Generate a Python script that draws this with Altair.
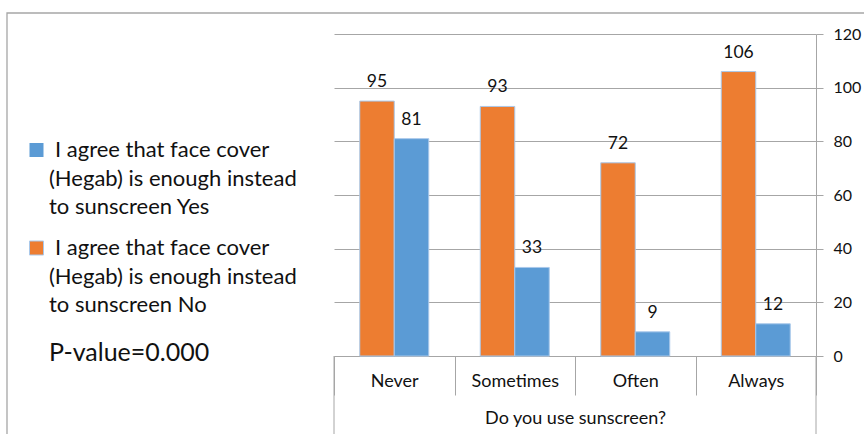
import altair as alt
import pandas as pd

# ---- data -------------------------------------------------------------
categories = ["Never", "Sometimes", "Often", "Always"]
series_keys = ["No", "Yes"]
no_values = [95, 93, 72, 106]
yes_values = [81, 33, 9, 12]
series_colors = ["#ED7D31", "#5B9BD5"]
legend_first = "I agree that face cover"
legend_yes_rest = ["(Hegab) is enough instead", "to sunscreen Yes"]
legend_no_rest = ["(Hegab) is enough instead", "to sunscreen No"]
x_title = "Do you use sunscreen?"
p_text = "P-value=0.000"
y_ticks = [0, 20, 40, 60, 80, 100, 120]

rows = []
for c, n, y in zip(categories, no_values, yes_values):
    rows.append({"category": c, "series": "No", "value": n})
    rows.append({"category": c, "series": "Yes", "value": y})
df = pd.DataFrame(rows)
one = pd.DataFrame({"k": [0]})

FONT = "Lato"
GRID = "#A6A6A6"
INK = "#111111"
W, H = 482, 322

x_enc = alt.X(
    "category:N",
    sort=categories,
    scale=alt.Scale(paddingInner=0, paddingOuter=0),
    axis=alt.Axis(
        title=x_title,
        titleFont=FONT,
        titleFontSize=18,
        titleFontWeight="normal",
        titleColor=INK,
        titleY=62,
        titleBaseline="middle",
        labelFont=FONT,
        labelFontSize=18,
        labelColor=INK,
        labelAngle=0,
        labelBaseline="middle",
        labelPadding=-14,
        tickBand="extent",
        tickSize=39,
        tickColor=GRID,
        domainColor=GRID,
        grid=False,
    ),
)
xo_enc = alt.XOffset("series:N", sort=series_keys,
                     scale=alt.Scale(paddingInner=0, paddingOuter=0.7464))
y_enc = alt.Y(
    "value:Q",
    scale=alt.Scale(domain=[0, 120], nice=False),
    axis=alt.Axis(
        orient="right",
        title=None,
        values=y_ticks,
        labelFont=FONT,
        labelFontSize=16,
        labelColor=INK,
        labelPadding=10,
        tickSize=7,
        tickColor=GRID,
        domainColor=GRID,
        grid=True,
        gridColor=GRID,
    ),
)

bars = alt.Chart(df).mark_bar(stroke="#A9C8EA", strokeWidth=1).encode(
    x=x_enc,
    xOffset=xo_enc,
    y=y_enc,
    color=alt.Color("series:N", scale=alt.Scale(domain=series_keys, range=series_colors), legend=None),
)
labels = alt.Chart(df).mark_text(font=FONT, fontSize=17.5, color=INK,
                                 baseline="middle", dy=-19).encode(
    x=alt.X("category:N", sort=categories), xOffset=xo_enc, y="value:Q", text="value:Q"
)

frame = alt.Chart(one).mark_rect(fillOpacity=0, stroke=GRID, strokeWidth=1.3).encode(
    x=alt.value(-327), x2=alt.value(600), y=alt.value(-21), y2=alt.value(500)
)
box_left = alt.Chart(one).mark_rule(color=GRID).encode(
    x=alt.value(0), y=alt.value(H), y2=alt.value(H + 90)
)
box_right = alt.Chart(one).mark_rule(color=GRID).encode(
    x=alt.value(W), y=alt.value(H), y2=alt.value(H + 90)
)

sym_yes = alt.Chart(one).mark_square(size=196, color=series_colors[1], opacity=1).encode(
    x=alt.value(-297.5), y=alt.value(116)
)
sym_no = alt.Chart(one).mark_square(size=196, color=series_colors[0], opacity=1,
                                    stroke="#A9C8EA", strokeWidth=1).encode(
    x=alt.value(-297.5), y=alt.value(214)
)


def legend_text(text, x, y):
    return alt.Chart(one).mark_text(font=FONT, fontSize=22, color=INK, align="left",
                                    baseline="middle", lineHeight=28.7).encode(
        x=alt.value(x), y=alt.value(y), text=alt.value(text)
    )


txt_yes1 = legend_text(legend_first, -279, 116)
txt_yes2 = legend_text(legend_yes_rest, -285, 144.7)
txt_no1 = legend_text(legend_first, -279, 214)
txt_no2 = legend_text(legend_no_rest, -285, 242.7)
ptxt = alt.Chart(one).mark_text(font=FONT, fontSize=25, color=INK, align="left",
                                baseline="middle").encode(
    x=alt.value(-285), y=alt.value(319), text=alt.value(p_text)
)

chart = alt.layer(
    frame, box_left, box_right, bars, labels, sym_yes, sym_no,
    txt_yes1, txt_yes2, txt_no1, txt_no2, ptxt
).properties(
    width=W, height=H,
    autosize=alt.AutoSizeParams(type="none"),
    padding={"left": 334, "top": 34, "right": 48, "bottom": 78},
    background="white",
).configure_view(strokeWidth=0)

chart.save("out.html", embed_options={"renderer": "svg", "actions": False})
